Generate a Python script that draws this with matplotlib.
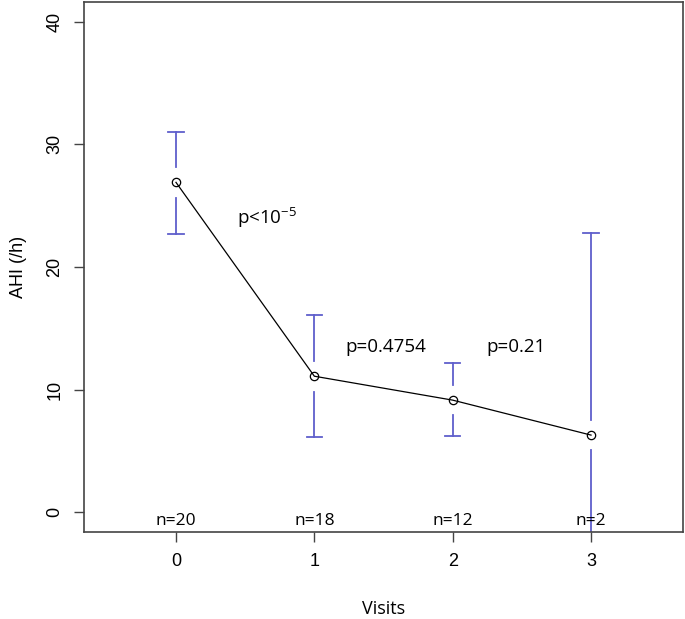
import matplotlib.pyplot as plt
import numpy as np

visits = [0, 1, 2, 3]
ahi_mean = [26.9, 11.1, 9.15, 6.3]
ahi_upper = [31.0, 16.05, 12.2, 22.8]
ahi_lower = [22.7, 6.15, 6.2, -10.0]
n_labels = ['n=20', 'n=18', 'n=12', 'n=2']
p_labels = [r'p<10$^{\mathregular{-5}}$', 'p=0.4754', 'p=0.21']
p_x = [0.66, 1.52, 2.46]
p_y = [24.0, 13.5, 13.5]

bar_col = '#5f5fcc'
gap = 1.25      # gap around the point, like gplots plotCI
cap = 0.055

fig = plt.figure(figsize=(6.85, 6.19), dpi=100)
ax = fig.add_axes([0.1226, 0.1405, 0.8745, 0.8563])

for x, m, hi, lo in zip(visits, ahi_mean, ahi_upper, ahi_lower):
    ax.plot([x, x], [m + gap, hi], color=bar_col, lw=1.3)
    ax.plot([x, x], [m - gap, lo], color=bar_col, lw=1.3)
    ax.plot([x - cap, x + cap], [hi, hi], color=bar_col, lw=1.3)
    if lo > -1.6:
        ax.plot([x - cap, x + cap], [lo, lo], color=bar_col, lw=1.3)

ax.plot(visits, ahi_mean, color='black', lw=0.9, marker='o', ms=6,
        mfc='none', mec='black', mew=0.9)

txt_font = ['Open Sans', 'DejaVu Sans']
for lab, x, y in zip(p_labels, p_x, p_y):
    ax.text(x, y, lab, ha='center', va='center', fontsize=13.5, family=txt_font)
for lab, x in zip(n_labels, visits):
    ax.text(x, -0.7, lab, ha='center', va='center', fontsize=12.5, family=txt_font)

ax.set_xlim(-0.665, 3.665)
ax.set_ylim(-1.6, 41.6)
ax.set_xticks(visits)
ax.set_yticks([0, 10, 20, 30, 40])
ax.tick_params(direction='out', length=7, width=1, color='#444444', labelsize=13, pad=8)
for lbl in ax.get_yticklabels():
    lbl.set_rotation(90)
    lbl.set_va('center')
    lbl.set_family('Liberation Sans')
for lbl in ax.get_xticklabels():
    lbl.set_family('Liberation Sans')
for s in ax.spines.values():
    s.set_color('#444444')
    s.set_linewidth(1.2)

ax.set_ylabel('AHI (/h)', fontsize=13, family='Liberation Sans', labelpad=14)
ax.set_xlabel('Visits', fontsize=13, family=txt_font, labelpad=22)

fig.savefig('out.png', dpi=100)
